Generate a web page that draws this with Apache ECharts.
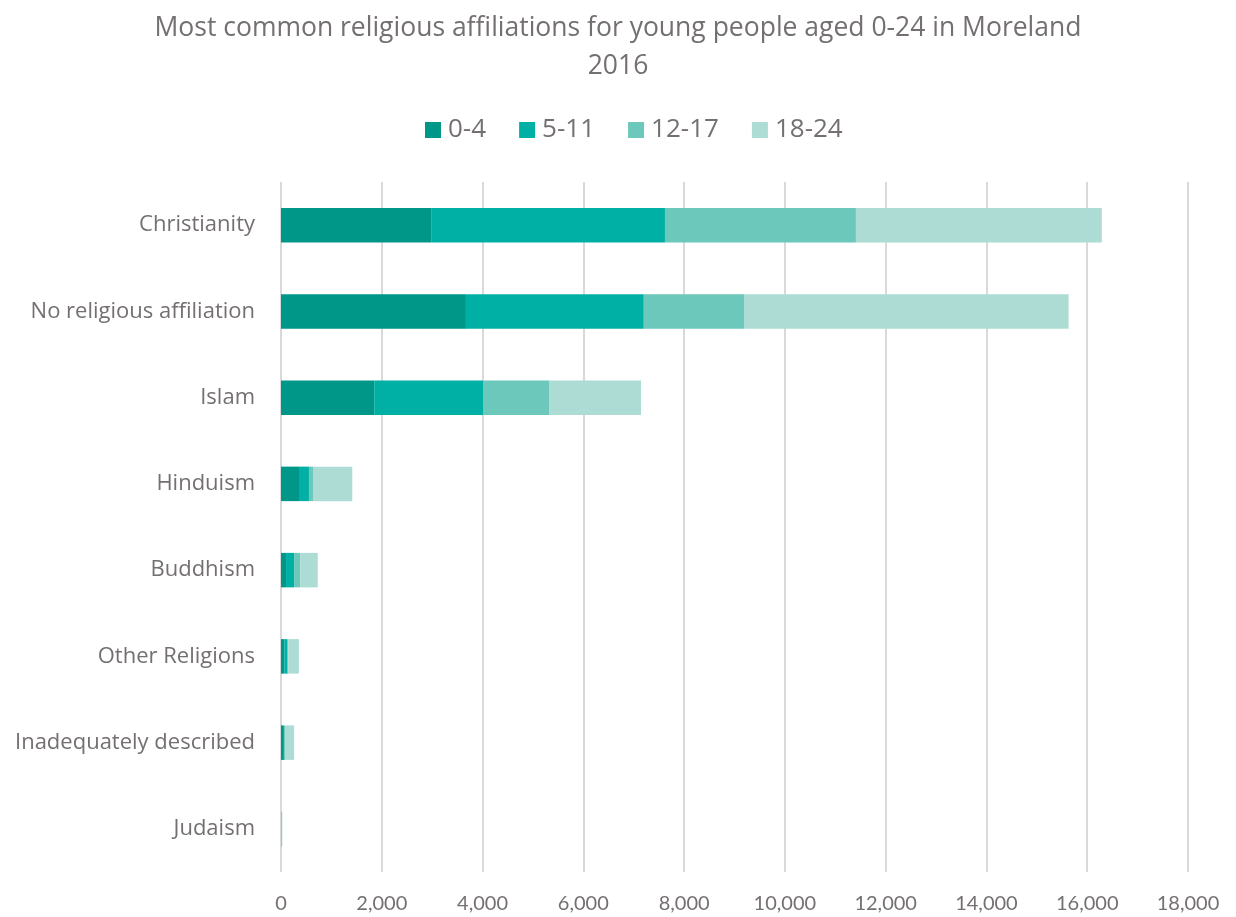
<!DOCTYPE html>
<html><head><meta charset="utf-8">
<script src="https://cdn.jsdelivr.net/npm/echarts@6/dist/echarts.min.js"></script>
<style>html,body{margin:0;padding:0;background:#fff}#c{width:1236px;height:917px}</style>
</head><body><div id="c"></div>
<script>
const categories = ["Christianity","No religious affiliation","Islam","Hinduism","Buddhism","Other Religions","Inadequately described","Judaism"];
const seriesNames = ["0-4","5-11","12-17","18-24"];
const age0_4   = [2980, 3670, 1850, 357, 100, 65, 40, 4];
const age5_11  = [4640, 3530, 2160, 198, 160, 55, 20, 5];
const age12_17 = [3790, 2000, 1310, 80, 120, 25, 20, 5];
const age18_24 = [4880, 6430, 1825, 780, 350, 210, 180, 12];
const xTicks = {min:0, max:18000, interval:2000};
const colors = ["#009688","#00b0a4","#6cc8bb","#addcd5"];
const textColor = "#757070";
const font = "'Open Sans', Lato, sans-serif";
const values = [age0_4, age5_11, age12_17, age18_24];

const chart = echarts.init(document.getElementById('c'));
chart.setOption({
  animation:false,
  title:{text:"Most common religious affiliations for young people aged 0-24 in Moreland\n2016",
    left:'center', top:4,
    textStyle:{color:textColor, fontFamily:font, fontSize:26.5, fontWeight:'normal', lineHeight:38}},
  legend:{top:112, left:420, itemWidth:16, itemHeight:16, itemGap:33, icon:'rect',
    textStyle:{color:textColor, fontFamily:font, fontSize:26, padding:[0,0,0,2]}, data:seriesNames},
  grid:{left:281, right:48, top:182, bottom:45, containLabel:false},
  xAxis:{type:'value', min:xTicks.min, max:xTicks.max, interval:xTicks.interval,
    axisLine:{show:false}, axisTick:{show:false},
    splitLine:{lineStyle:{color:'#d9d9d9', width:2}},
    axisLabel:{color:textColor, fontFamily:"Lato, sans-serif", fontSize:20, margin:22,
      formatter:v=>v.toLocaleString('en-US')}},
  yAxis:{type:'category', data:categories, inverse:true,
    axisLine:{show:false}, axisTick:{show:false},
    axisLabel:{color:textColor, fontFamily:font, fontSize:22, margin:26}},
  series: seriesNames.map((n,i)=>({name:n, type:'bar', stack:'t', data:values[i],
    barWidth:'40%', itemStyle:{color:colors[i]}}))
});
</script></body></html>
